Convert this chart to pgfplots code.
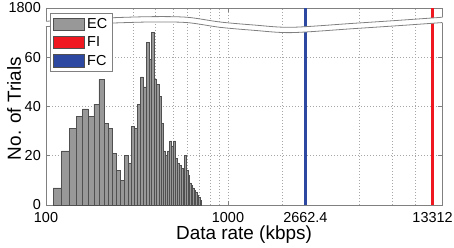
\documentclass[border=0pt]{standalone}
\usepackage{pgfplots}
\pgfplotsset{compat=1.18}
\usepackage{fontspec}
\setmainfont{Liberation Sans}
\usetikzlibrary{calc}
\definecolor{ecgray}{RGB}{152,152,152}
\definecolor{ecedge}{RGB}{80,80,80}
\definecolor{fired}{RGB}{240,24,32}
\definecolor{fcblue}{RGB}{44,72,160}
\definecolor{framegray}{RGB}{128,128,128}
\newcommand\fs{\fontsize{14.5pt}{17pt}\selectfont}
\newcommand\fl{\fontsize{19pt}{22pt}\selectfont}
\begin{document}
\begin{tikzpicture}
\begin{axis}[
  name=ax, clip=false,
  scale only axis, width=396bp, height=197bp,
  xmode=log, xmin=100, xmax=15000, ymin=0, ymax=80,
  xtick={100,1000,2662.4,13312},
  xticklabels={100,1000,2662.4,13312},
  minor xtick={300,400,500,600,700,800,900,2000,5300,8000,10700},
  ytick={0,20,40,60,80},
  yticklabels={0,20,40,60,1800},
  xmajorgrids, ymajorgrids, xminorgrids,
  grid style={dash pattern=on 1bp off 2bp, gray!70, line width=0.6bp},
  minor grid style={dash pattern=on 1bp off 2bp, gray!70, line width=0.6bp},
  tick align=inside, major tick length=4bp, minor tick length=0bp,
  tick style={framegray, line width=0.8bp},
  axis line style={framegray, line width=0.8bp},
  ticklabel style={font=\fs},
  /pgf/number format/assume math mode=true,
  xticklabel style={anchor=base, yshift=-18bp},
  yticklabel style={anchor=east, inner sep=2bp, xshift=-3bp},
  xlabel={Data rate (kbps)}, ylabel={No. of Trials},
  xlabel style={font=\fl, at={(rel axis cs:0.5,0)}, anchor=base, yshift=-35bp},
  ylabel style={font=\fl, at={(rel axis cs:0,0.49)}, anchor=center, yshift=32bp},
  legend style={at={(rel axis cs:0.0101,0.975)}, anchor=north west, draw=framegray, line width=0.8bp, fill=white, font=\fs, inner xsep=3bp, inner ysep=3bp, row sep=3bp, /tikz/every even column/.append style={column sep=3bp}},
  legend cell align=left,
]
\addplot[ybar interval, fill=ecgray, draw=ecedge, line width=0.5bp,
  legend image code/.code={\draw[fill=ecgray, draw=ecedge, line width=0.8bp] (0bp,-6.2bp) rectangle (31bp,6.2bp);}]
coordinates {
(109.3,7) (121.6,22) (133.9,31) (146.2,36) (158.5,39) (170.8,36) (183.1,41) (195.4,51)
(207.7,33) (220.0,31) (232.3,21) (244.6,14) (256.9,10) (269.2,20) (281.5,17) (293.8,32)
(306.1,31) (318.4,41) (330.7,52) (343.0,48) (355.3,66) (367.6,59) (379.9,70) (392.2,51)
(404.5,49) (416.8,44) (429.1,33) (441.4,22) (453.7,20) (466.0,22) (478.3,26) (490.6,24)
(502.9,26) (515.2,19) (527.5,17) (539.8,16) (552.1,15) (564.4,13) (576.7,20) (589.0,14)
(601.3,12) (613.6,9) (625.9,8) (638.2,7) (650.5,6) (662.8,5) (675.1,4) (687.4,3)
(699.7,2) (712.0,0)
};
\addlegendentry{EC}
\addplot[fired, line width=2.3bp,
  legend image code/.code={\draw[fill=fired, draw=ecedge, line width=0.8bp] (0bp,-6.2bp) rectangle (31bp,6.2bp);}]
coordinates {(13312,0) (13312,80)};
\addlegendentry{FI}
\addplot[fcblue, line width=2.3bp,
  legend image code/.code={\draw[fill=fcblue, draw=ecedge, line width=0.8bp] (0bp,-6.2bp) rectangle (31bp,6.2bp);}]
coordinates {(2662.4,0) (2662.4,80)};
\addlegendentry{FC}
\draw[white, line width=5.3bp] plot[smooth] coordinates {(rel axis cs:-0.004,0.919) (rel axis cs:0.136,0.9345) (rel axis cs:0.263,0.9425) (rel axis cs:0.356,0.9395) (rel axis cs:0.439,0.9155) (rel axis cs:0.523,0.9005) (rel axis cs:0.619,0.8885) (rel axis cs:0.775,0.9085) (rel axis cs:0.902,0.9255) (rel axis cs:1.004,0.9395)};
\draw[framegray, line width=0.8bp] plot[smooth] coordinates {(rel axis cs:0,0.9325) (rel axis cs:0.136,0.948) (rel axis cs:0.263,0.956) (rel axis cs:0.356,0.953) (rel axis cs:0.439,0.929) (rel axis cs:0.523,0.914) (rel axis cs:0.619,0.902) (rel axis cs:0.775,0.922) (rel axis cs:0.902,0.939) (rel axis cs:1,0.953)};
\draw[framegray, line width=0.8bp] plot[smooth] coordinates {(rel axis cs:0,0.9055) (rel axis cs:0.136,0.921) (rel axis cs:0.263,0.929) (rel axis cs:0.356,0.926) (rel axis cs:0.439,0.902) (rel axis cs:0.523,0.887) (rel axis cs:0.619,0.875) (rel axis cs:0.775,0.895) (rel axis cs:0.902,0.912) (rel axis cs:1,0.926)};
\end{axis}
\pgfresetboundingbox
\path[use as bounding box] ($(ax.south west)+(-46bp,-43bp)$) rectangle ($(ax.north east)+(12bp,8bp)$);
\end{tikzpicture}
\end{document}
